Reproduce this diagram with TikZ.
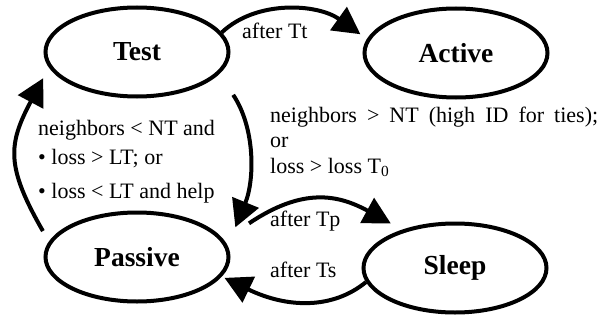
\documentclass[tikz,border=0pt]{standalone}
\usepackage{fontspec}
\setmainfont{Liberation Serif}
\usetikzlibrary{arrows.meta,shapes.geometric}

\tikzset{
  state/.style={draw, ellipse, line width=4pt, minimum width=183pt,
    minimum height=89pt, inner sep=0pt,
    font=\fontsize{27.5}{33}\selectfont\bfseries},
  trans/.style={line width=4pt, -{Triangle[length=27pt,width=28pt]}},
  cond/.style={anchor=base west, inner sep=0pt,
    font=\fontsize{22}{26}\selectfont},
}

\begin{document}
\begin{tikzpicture}[x=1pt, y=-1pt]
  \useasboundingbox (0,0) rectangle (602,321);

  \node [state] (test) at (137,52) {Test};
  \node [state] (active) at (456,53) {Active};
  \node [state] (passive) at (137,257) {Passive};
  \node [state] (sleep) at (455,268) {Sleep};

  \draw [trans, shorten >=8pt] (test.13)
    .. controls +(35,-33) and +(-49,-35) .. (active.171);
  \draw [trans, shorten <=25pt, shorten >=20pt] (test.-15)
    .. controls +(36,54) and +(27,-66) .. (passive.7);
  \draw [trans, shorten <=12pt, shorten >=12pt] (passive.170)
    .. controls +(-43,-75) and +(-41,77) .. (test.190);
  \draw [trans, shorten <=30pt, shorten >=13pt] (passive.11)
    .. controls +(79,-53) and +(-64,-35) .. (sleep.144);
  \draw [trans, shorten >=3pt] (sleep.189)
    .. controls +(-33,27) and +(66,32) .. (passive.-13);

  \node [cond] (afterTt) at (242,38) {after Tt};
  \node [cond] (afterTp) at (270,226) {after Tp};
  \node [cond] (afterTs) at (270,277) {after Ts};

  % base anchor of a multi-line node = its last line
  \node [cond, align=left, font=\fontsize{22}{29}\selectfont] (toPassive) at (38,198)
    {neighbors < NT and\\ \textbullet\ loss > LT; or\\[5pt] \textbullet\ loss < LT and help};
  \node [cond, align=left, font=\fontsize{22}{25.5}\selectfont] (toActive) at (270,173)
    {\makebox[328pt][s]{neighbors > NT (high ID for ties);}\\ or\\ loss > loss T\textsubscript{0}};
\end{tikzpicture}
\end{document}
